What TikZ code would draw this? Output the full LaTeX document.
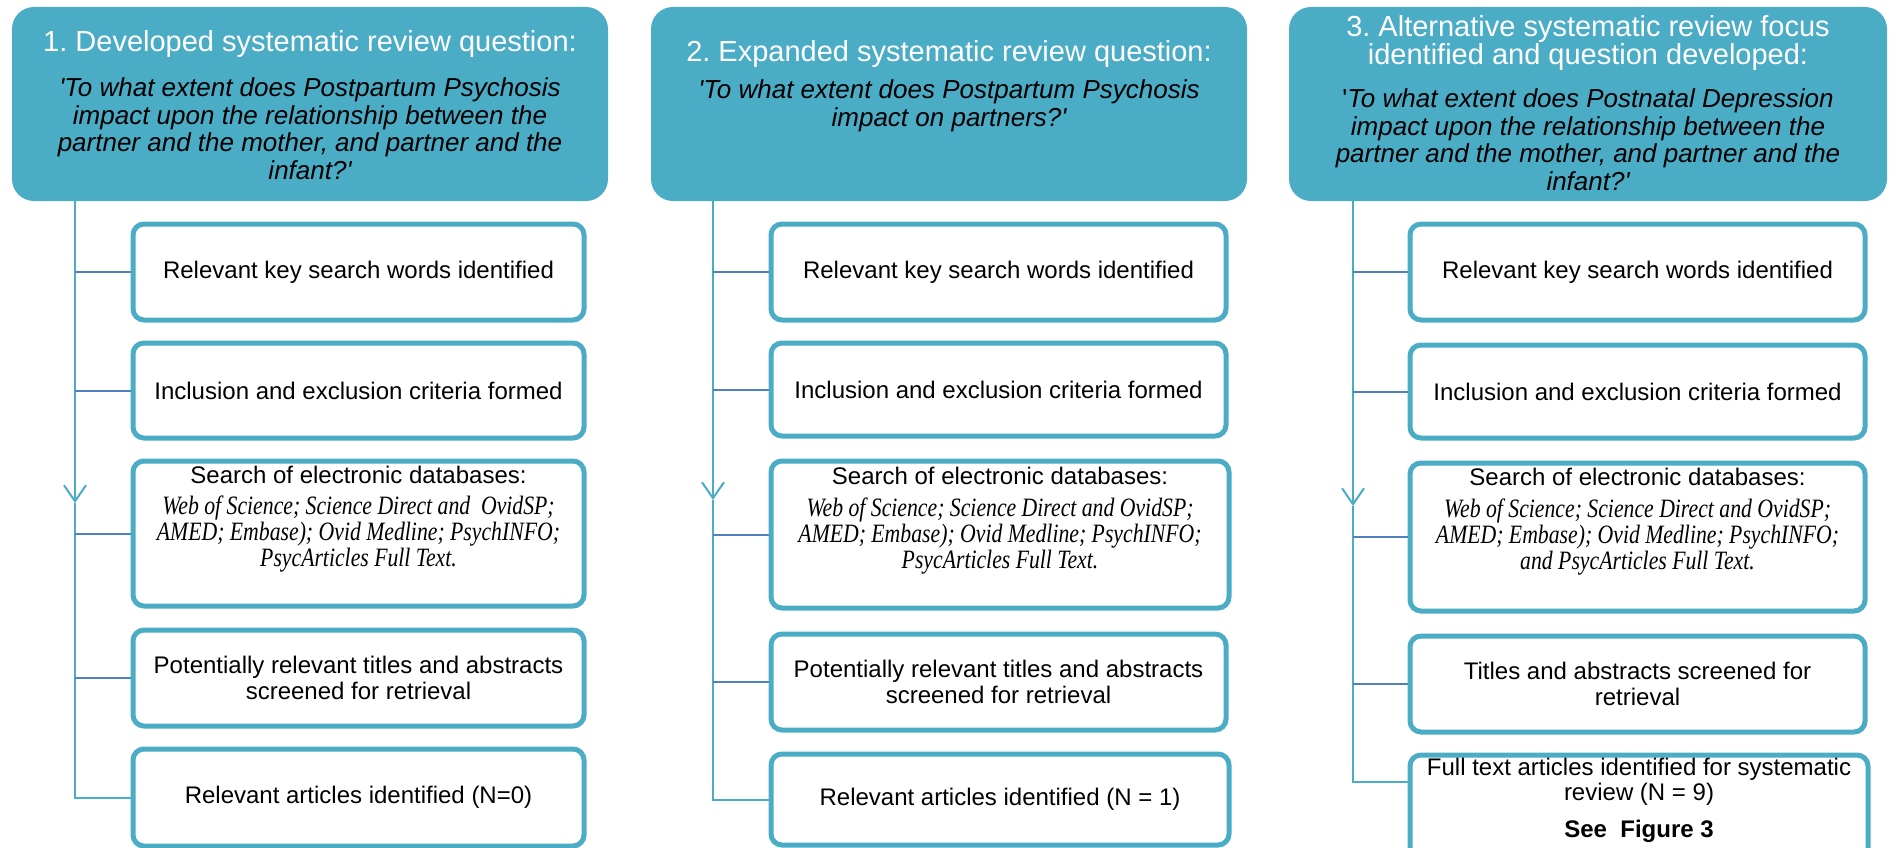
\documentclass[tikz,border=0pt]{standalone}
\usepackage{fontspec}
\setmainfont{Liberation Sans}
\newfontfamily\dbfont{Liberation Serif}[FakeStretch=0.82]
\usetikzlibrary{arrows.meta}
\definecolor{aqua}{RGB}{75,172,198}
\definecolor{linkblue}{RGB}{79,129,189}
\newcommand{\sq}{\textquotesingle}
\frenchspacing

\begin{document}
\begin{tikzpicture}[x=1pt,y=-1pt,
  header/.style={fill=aqua, rounded corners=22pt, inner sep=0pt, minimum height=194pt},
  stepbox/.style={draw=aqua, line width=5pt, fill=white, rounded corners=11pt,
    inner sep=0pt, align=center, font=\fontsize{24}{25.5}\selectfont},
  titletext/.style={text=white, align=center, inner sep=0pt, font=\fontsize{29}{28}\selectfont},
  question/.style={align=center, inner sep=0pt, font=\fontsize{26}{27.5}\selectfont\itshape},
  plaintext/.style={align=center, inner sep=0pt, font=\fontsize{24}{25.5}\selectfont},
  dbtext/.style={align=center, inner sep=0pt, font=\fontsize{26.5}{26}\selectfont\dbfont\itshape},
  trunk/.style={draw=aqua, line width=2pt},
  flow/.style={trunk, -{Straight Barb[length=16pt,width=22pt,line width=2pt]}},
  branch/.style={draw=linkblue, line width=2pt}]

\useasboundingbox (0,0) rectangle (1889,848);

% ---------------- column 1 ----------------
\node[header, minimum width=596pt] (h1) at (310,104) {};
\node[titletext] (h1t) at (310,44) {1. Developed systematic review question:};
\node[question] (h1q) at (310,128.5) {\sq To what extent does Postpartum Psychosis\\
  impact upon the relationship between the\\ partner and the mother, and partner and the\\ infant?\sq};

\node[stepbox, minimum width=451pt, minimum height=96pt] (b11) at (358.5,272) {Relevant key search words identified};
\node[stepbox, minimum width=451pt, minimum height=95pt] (b12) at (358.5,390.5) {Inclusion and exclusion criteria formed};
\node[stepbox, minimum width=451pt, minimum height=145pt] (b13) at (358.5,533.5) {};
\node[plaintext] (b13t) at (358.5,475) {Search of electronic databases:};
\node[dbtext] (b13d) at (358.5,534.5) {Web of Science; Science Direct and\ \ OvidSP;\\
  AMED; Embase); Ovid Medline; PsychINFO;\\ PsycArticles Full Text.};
\node[stepbox, minimum width=451pt, minimum height=96pt] (b14) at (358.5,678) {Potentially relevant titles and abstracts\\ screened for retrieval};
\node[stepbox, minimum width=451pt, minimum height=97pt] (b15) at (358.5,797.5) {Relevant articles identified (N=0)};

\coordinate (a1) at (75,503);
\draw[flow] (h1.south -| a1) -- (a1);
\draw[trunk] (a1) |- (b15.west);
\foreach \b in {b11,b12,b13,b14} \draw[branch] (\b.west -| a1) -- (\b.west);

% ---------------- column 2 ----------------
\node[header, minimum width=596pt] (h2) at (949,104) {};
\node[titletext] (h2t) at (949,54) {2. Expanded systematic review question:};
\node[question] (h2q) at (949,106) {\sq To what extent does Postpartum Psychosis\\ impact on partners?\sq};

\node[stepbox, minimum width=455pt, minimum height=96pt] (b21) at (998.5,272) {Relevant key search words identified};
\node[stepbox, minimum width=455pt, minimum height=93pt] (b22) at (998.5,389.5) {Inclusion and exclusion criteria formed};
\node[stepbox, minimum width=458pt, minimum height=147pt] (b23) at (1000,534.5) {};
\node[plaintext] (b23t) at (1000,476) {Search of electronic databases:};
\node[dbtext] (b23d) at (1000,536) {Web of Science; Science Direct and OvidSP;\\
  AMED; Embase); Ovid Medline; PsychINFO;\\ PsycArticles Full Text.};
\node[stepbox, minimum width=455pt, minimum height=96pt] (b24) at (998.5,682) {Potentially relevant titles and abstracts\\ screened for retrieval};
\node[stepbox, minimum width=458pt, minimum height=91pt] (b25) at (1000,799.5) {Relevant articles identified (N = 1)};

\coordinate (a2) at (713,500);
\draw[flow] (h2.south -| a2) -- (a2);
\draw[trunk] (a2) |- (b25.west);
\foreach \b in {b21,b22,b23,b24} \draw[branch] (\b.west -| a2) -- (\b.west);

% ---------------- column 3 ----------------
\node[header, minimum width=598pt] (h3) at (1588,104) {};
\node[titletext] (h3t) at (1588,43.5) {3. Alternative systematic review focus\\ identified and question developed:};
\node[question] (h3q) at (1588,139.5) {{\upshape\sq}To what extent does Postnatal Depression\\
  impact upon the relationship between the\\ partner and the mother, and partner and the\\ infant?\sq};

\node[stepbox, minimum width=455pt, minimum height=96pt] (b31) at (1637.5,272) {Relevant key search words identified};
\node[stepbox, minimum width=455pt, minimum height=93pt] (b32) at (1637.5,391.5) {Inclusion and exclusion criteria formed};
\node[stepbox, minimum width=455pt, minimum height=148pt] (b33) at (1637.5,537) {};
\node[plaintext] (b33t) at (1637.5,477) {Search of electronic databases:};
\node[dbtext] (b33d) at (1637.5,537) {Web of Science; Science Direct and OvidSP;\\
  AMED; Embase); Ovid Medline; PsychINFO;\\ and PsycArticles Full Text.};
\node[stepbox, minimum width=455pt, minimum height=96pt] (b34) at (1637.5,684) {Titles and abstracts screened for\\ retrieval};
\node[stepbox, minimum width=458pt, minimum height=118pt] (b35) at (1639,814) {};
\node[plaintext] (b35t) at (1639,782) {Full text articles identified for systematic\\ review (N = 9)};
\node[plaintext, font=\fontsize{24}{25.5}\selectfont\bfseries] (b35f) at (1639,831) {See\ \ Figure 3};

\coordinate (a3) at (1353,506);
\draw[flow] (h3.south -| a3) -- (a3);
\draw[trunk] (a3) |- (b35.west |- b35t);
\foreach \b in {b31,b32,b33,b34} \draw[branch] (\b.west -| a3) -- (\b.west);

\end{tikzpicture}
\end{document}
